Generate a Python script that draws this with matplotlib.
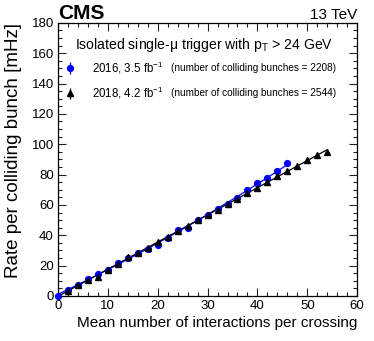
import numpy as np
import matplotlib
matplotlib.use("Agg")
import matplotlib.pyplot as plt
from matplotlib.ticker import MultipleLocator

plt.rcParams['font.family'] = ['Liberation Sans', 'DejaVu Sans']
plt.rcParams['mathtext.fontset'] = 'custom'
plt.rcParams['mathtext.rm'] = 'Liberation Sans'
plt.rcParams['mathtext.it'] = 'Liberation Sans:italic'

# Data
mu_2016 = [0, 2, 4, 6, 8, 10, 12, 14, 16, 18, 20, 22, 24, 26, 28, 30, 32, 34, 36, 38, 40, 42, 44, 46]
rate_2016 = [0.0, 3.9, 7.2, 11.0, 14.7, 17.4, 22.0, 24.8, 28.6, 31.2, 33.8, 38.4, 43.3, 45.0,
             49.9, 53.4, 57.1, 60.8, 64.6, 69.9, 74.3, 77.6, 82.6, 87.5]
mu_2018 = [2, 4, 6, 8, 10, 12, 14, 16, 18, 20, 22, 24, 26, 28, 30, 32, 34, 36, 38, 40, 42, 44, 46, 48, 50, 52, 54]
rate_2018 = [3.6, 7.0, 10.6, 12.8, 17.2, 21.1, 26.0, 28.6, 31.8, 35.8, 39.1, 42.8, 46.3, 49.9, 53.2,
             56.9, 60.6, 64.1, 68.1, 71.4, 74.9, 78.9, 82.4, 85.7, 89.7, 93.2, 95.0]

labels = ["2016, 3.5 fb$^{-1}$", "2018, 4.2 fb$^{-1}$"]
notes = ["(number of colliding bunches = 2208)", "(number of colliding bunches = 2544)"]
header = "Isolated single-\u03bc trigger with p$_\\mathregular{T}$ > 24 GeV"

fig = plt.figure(figsize=(3.74, 3.41), dpi=100)
ax = fig.add_axes([0.155, 0.132, 0.8, 0.801])

# Fit lines
c16 = np.polyfit(mu_2016, rate_2016, 2)
c18 = np.polyfit(mu_2018, rate_2018, 1)
x16 = np.linspace(0, max(mu_2016), 200)
x18 = np.linspace(0, max(mu_2018), 200)
ax.plot(x16, np.polyval(c16, x16), color='blue', lw=0.9, zorder=2)
ax.plot(x18, np.polyval(c18, x18), color='black', lw=0.9, zorder=2)

h16 = ax.errorbar(mu_2016, rate_2016, yerr=np.zeros(len(mu_2016)), fmt='o', color='blue',
                  ms=4.2, elinewidth=0.9, capsize=0, zorder=3, clip_on=False)
h18 = ax.errorbar(mu_2018, rate_2018, yerr=np.zeros(len(mu_2018)), fmt='^', color='black',
                  ms=4.4, elinewidth=0.9, capsize=0, zorder=3, clip_on=False)

ax.set_xlim(0, 60)
ax.set_ylim(0, 180)
ax.xaxis.set_major_locator(MultipleLocator(10))
ax.xaxis.set_minor_locator(MultipleLocator(2))
ax.yaxis.set_major_locator(MultipleLocator(20))
ax.yaxis.set_minor_locator(MultipleLocator(5))
ax.tick_params(which='both', direction='in', top=True, right=True, labelsize=9.5, width=0.8, color='#222222')
ax.tick_params(which='major', length=6, pad=3)
ax.tick_params(which='minor', length=3)
for s in ax.spines.values():
    s.set_linewidth(0.9)

ax.set_xlabel("Mean number of interactions per crossing", fontsize=11, loc='right', labelpad=3)
ax.set_ylabel("Rate per colliding bunch [mHz]", fontsize=13.5, loc='top', labelpad=7)

fig.text(0.155, 0.945, "CMS", fontsize=15, fontweight='bold', ha='left', va='baseline')
fig.text(0.955, 0.945, "13 TeV", fontsize=11, ha='right', va='baseline')

ax.text(0.057, 0.919, header, transform=ax.transAxes, fontsize=10.1, va='center', ha='left')

leg = ax.legend([h16, h18], labels, loc='center left', bbox_to_anchor=(0.018, 0.79),
                frameon=False, fontsize=8.3, handlelength=1.2, handletextpad=1.3,
                labelspacing=0.8, borderpad=0, borderaxespad=0)
for y, n in zip([0.835, 0.744], notes):
    ax.text(0.378, y, n, transform=ax.transAxes, fontsize=7.2, va='center', ha='left')

fig.savefig("out.png", dpi=100)
